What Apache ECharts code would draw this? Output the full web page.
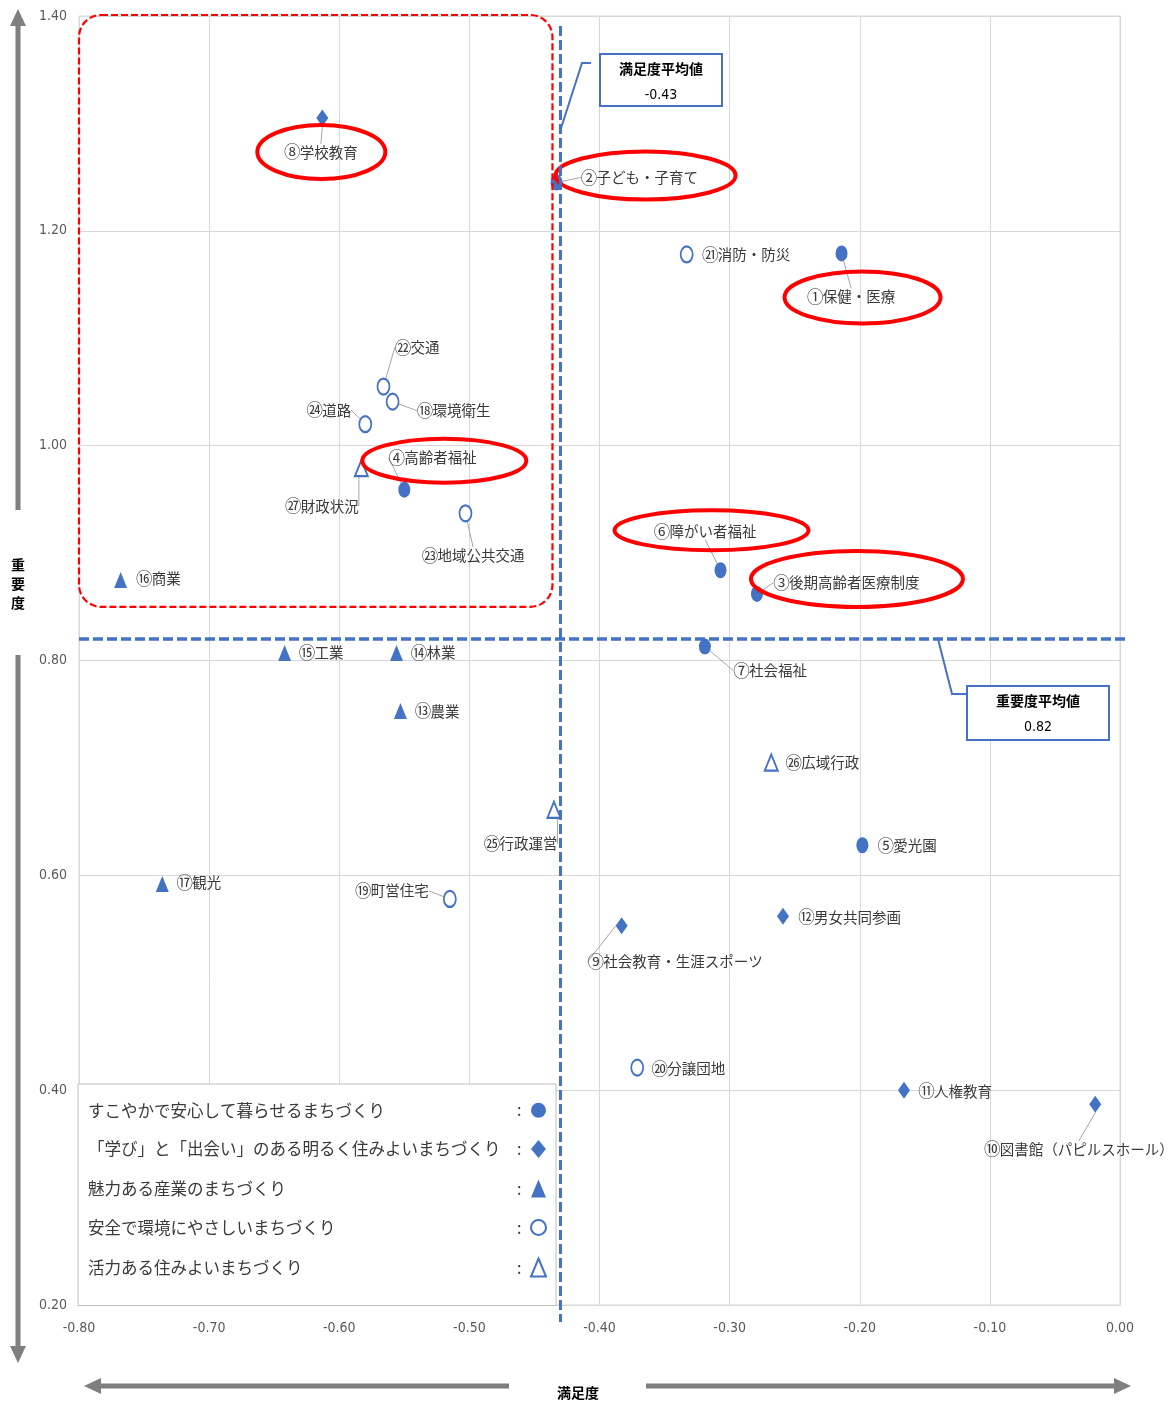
<!DOCTYPE html>
<html>
<head>
<meta charset="utf-8">
<script src="https://cdn.jsdelivr.net/npm/echarts@6/dist/echarts.min.js"></script>
<style>
  html, body { margin: 0; padding: 0; background: #fff; }
  #chart { width: 1176px; height: 1403px; }
</style>
</head>
<body>
<div id="chart"></div>
<script>
// ---- data ----
const itemNames = [
  '①保健・医療', '②子ども・子育て', '③後期高齢者医療制度', '④高齢者福祉', '⑤愛光園',
  '⑥障がい者福祉', '⑦社会福祉', '⑧学校教育', '⑨社会教育・生涯スポーツ', '⑩図書館（パピルスホール）',
  '⑪人権教育', '⑫男女共同参画', '⑬農業', '⑭林業', '⑮工業', '⑯商業', '⑰観光',
  '⑱環境衛生', '⑲町営住宅', '⑳分譲団地', '㉑消防・防災', '㉒交通', '㉓地域公共交通', '㉔道路',
  '㉕行政運営', '㉖広域行政', '㉗財政状況'
];
// 満足度 (x)
const satisfaction = [
  -0.214, -0.433, -0.279, -0.550, -0.198,
  -0.307, -0.319, -0.613, -0.383, -0.019,
  -0.166, -0.259, -0.553, -0.556, -0.642, -0.768, -0.736,
  -0.559, -0.515, -0.371, -0.333, -0.566, -0.503, -0.580,
  -0.435, -0.268, -0.583
];
// 重要度 (y)
const importance = [
  1.179, 1.245, 0.862, 0.959, 0.628,
  0.884, 0.813, 1.305, 0.553, 0.387,
  0.400, 0.562, 0.753, 0.807, 0.807, 0.875, 0.592,
  1.041, 0.578, 0.421, 1.178, 1.055, 0.937, 1.020,
  0.661, 0.705, 0.979
];
// policy group of each item (index into groupNames)
const groupOf = [0,0,0,0,0,0,0, 1,1,1,1,1, 2,2,2,2,2, 3,3,3,3,3,3,3, 4,4,4];
const groupNames = [
  'すこやかで安心して暮らせるまちづくり',
  '「学び」と「出会い」のある明るく住みよいまちづくり',
  '魅力ある産業のまちづくり',
  '安全で環境にやさしいまちづくり',
  '活力ある住みよいまちづくり'
];
const xAxisRange = [-0.8, 0.0, 0.1];
const yAxisRange = [0.2, 1.4, 0.2];
const meanSatisfaction = -0.43;
const meanImportance = 0.82;
const highlighted = [7, 1, 0, 3, 5, 2];   // items circled in red

// ---- styling ----
const BLUE = '#4472c4';
const TEXT = '#3a3a3a';
const CJK = "'Noto Sans CJK JP', 'Noto Sans', sans-serif";
const NARROW = "'Liberation Sans Narrow', 'DejaVu Sans Condensed', 'Liberation Sans', sans-serif";
const groupSymbols = ['circle', 'diamond', 'triangle', 'emptyCircle', 'emptyTriangle'];
const groupSizes = [[12, 16], [12, 17], [13, 16], [12, 16], [13, 16]];

// label placement: [dx, dy, align, leaderLine] relative to the marker centre
const labelPlacement = [
  [10, 43, 'center', true],   // ①
  [25, -5, 'left', true],     // ②
  [17, -11, 'left', true],    // ③
  [-15, -32, 'left', true],   // ④
  [16, 0, 'left', false],     // ⑤
  [-15, -39, 'center', true], // ⑥
  [29, 24, 'left', true],     // ⑦
  [-1, 34, 'center', true],   // ⑧
  [54, 36, 'center', true],   // ⑨
  [-16, 45, 'center', true],  // ⑩
  [15, 1, 'left', false],     // ⑪
  [16, 1, 'left', false],     // ⑫
  [15, 0, 'left', false],     // ⑬
  [15, 0, 'left', false],     // ⑭
  [15, 0, 'left', false],     // ⑮
  [16, -1, 'left', false],    // ⑯
  [15, -1, 'left', false],    // ⑰
  [25, 9, 'left', true],      // ⑱
  [-21, -8, 'right', true],   // ⑲
  [15, 1, 'left', false],     // ⑳
  [16, 0, 'left', false],     // ㉑
  [12, -39, 'left', true],    // ㉒
  [8, 42, 'center', true],    // ㉓
  [-14, -14, 'right', true],  // ㉔
  [-33, 34, 'center', true],  // ㉕
  [15, 0, 'left', false],     // ㉖
  [-39, 38, 'center', true]   // ㉗
];
// red ellipses: [dx, dy, rx, ry] relative to the marker centre
const ellipseShape = {
  7: [-1, 34, 64, 27],
  1: [89, -7, 90, 24],
  0: [21, 44, 78, 26],
  3: [40, -29, 82, 22],
  5: [-9, -40, 97, 20],
  2: [100, -15, 106, 28]
};

const seriesItems = groupNames.map((_, g) => itemNames.map((_, i) => i).filter(i => groupOf[i] === g));

const series = groupNames.map((name, g) => ({
  name: name,
  type: 'scatter',
  symbol: groupSymbols[g],
  symbolSize: groupSizes[g],
  itemStyle: { color: BLUE, borderColor: BLUE, borderWidth: g >= 3 ? 1.5 : 0, opacity: 1 },
  emphasis: { disabled: true },
  label: {
    show: true,
    position: 'right',
    formatter: p => '{n|' + p.name.charAt(0) + '}{t|' + p.name.slice(1) + '}',
    color: TEXT,
    fontSize: 14.5,
    fontFamily: CJK,
    rich: {
      n: { fontSize: 16.5, color: TEXT, fontFamily: CJK, width: 15, align: 'center' },
      t: { fontSize: 14.5, color: TEXT, fontFamily: CJK }
    }
  },
  labelLine: { show: true, smooth: false, length2: 0, lineStyle: { color: '#a6a6a6', width: 1 } },
  labelLayout: params => {
    const i = seriesItems[params.seriesIndex][params.dataIndex];
    const p = labelPlacement[i];
    const cx = params.rect.x + params.rect.width / 2;
    const cy = params.rect.y + params.rect.height / 2;
    return { x: cx + p[0], y: cy + p[1], align: p[2], verticalAlign: 'middle' };
  },
  data: seriesItems[g].map(i => ({
    name: itemNames[i],
    value: [satisfaction[i], importance[i]],
    labelLine: { show: labelPlacement[i][3] }
  })),
  z: 3
}));

const legendIcons = ['circle', 'diamond', 'triangle', 'emptyCircle', 'emptyTriangle'];

const option = {
  animation: false,
  backgroundColor: '#fff',
  grid: { left: 79, right: 56, top: 16, bottom: 98, show: true, borderColor: '#d9d9d9', borderWidth: 1 },
  xAxis: {
    type: 'value', min: xAxisRange[0], max: xAxisRange[1], interval: xAxisRange[2],
    axisLine: { show: true, lineStyle: { color: '#d9d9d9' } },
    axisTick: { show: false },
    splitLine: { show: true, lineStyle: { color: '#d9d9d9', width: 1 } },
    axisLabel: { formatter: v => v.toFixed(2), color: '#595959', fontSize: 14, fontFamily: NARROW, margin: 16 }
  },
  yAxis: {
    type: 'value', min: yAxisRange[0], max: yAxisRange[1], interval: yAxisRange[2],
    axisLine: { show: true, lineStyle: { color: '#d9d9d9' } },
    axisTick: { show: false },
    splitLine: { show: true, lineStyle: { color: '#d9d9d9', width: 1 } },
    axisLabel: { formatter: v => v.toFixed(2), color: '#595959', fontSize: 14, fontFamily: NARROW, margin: 12 }
  },
  legend: {
    orient: 'vertical',
    left: 78, top: 1084,
    align: 'right',
    selectedMode: false,
    padding: [18, 9, 28, 10],
    itemGap: 21.5,
    itemWidth: 15,
    itemHeight: 18,
    backgroundColor: '#fff',
    borderColor: '#bfbfbf',
    borderWidth: 1,
    data: groupNames.map((n, g) => ({ name: n, icon: legendIcons[g] })),
    formatter: n => '{t|' + n + '}{c|:}',
    textStyle: {
      rich: {
        t: { width: 429, align: 'left', fontSize: 16.5, color: TEXT, fontFamily: CJK, lineHeight: 20 },
        c: { width: 9, align: 'left', fontSize: 16, color: TEXT, fontFamily: CJK, lineHeight: 20 }
      }
    },
    z: 5
  },
  series: series
};

const chart = echarts.init(document.getElementById('chart'));
chart.setOption(option);

// ---- annotations placed from the axis scales ----
const toPx = (x, y) => chart.convertToPixel({ gridIndex: 0 }, [x, y]);
const origin = toPx(xAxisRange[0], yAxisRange[1]);
const corner = toPx(xAxisRange[1], yAxisRange[0]);
const gLeft = origin[0], gTop = origin[1], gRight = corner[0], gBottom = corner[1];
const meanX = toPx(meanSatisfaction, yAxisRange[0])[0];
const meanY = toPx(xAxisRange[0], meanImportance)[1];
const focusBottom = toPx(xAxisRange[0], 0.85)[1];

const graphics = [];

// top-left quadrant highlight
graphics.push({
  type: 'rect', z: 20, silent: true,
  shape: { x: gLeft, y: gTop - 1, width: meanX - 8 - gLeft, height: focusBottom - gTop + 1, r: 22 },
  style: { fill: 'none', stroke: '#ff0000', lineWidth: 2.2, lineDash: [7, 3] }
});

// average lines
graphics.push({
  type: 'line', z: 30, silent: true,
  shape: { x1: meanX, y1: gTop + 10, x2: meanX, y2: gBottom + 17 },
  style: { stroke: BLUE, lineWidth: 3, lineDash: [10, 4] }
});
graphics.push({
  type: 'line', z: 30, silent: true,
  shape: { x1: gLeft, y1: meanY, x2: gRight + 8, y2: meanY },
  style: { stroke: BLUE, lineWidth: 3.5, lineDash: [10, 4] }
});

// average call-outs
function callout(x, y, w, h, title, value, leader) {
  graphics.push({
    type: 'polyline', z: 31, silent: true,
    shape: { points: leader },
    style: { stroke: BLUE, lineWidth: 2, fill: 'none' }
  });
  graphics.push({
    type: 'rect', z: 31, silent: true,
    shape: { x: x, y: y, width: w, height: h },
    style: { fill: '#fff', stroke: BLUE, lineWidth: 2 }
  });
  graphics.push({
    type: 'text', z: 32, silent: true,
    style: { x: x + w / 2, y: y + 15, text: title, align: 'center', verticalAlign: 'middle',
             fontSize: 14, fontWeight: 'bold', fontFamily: CJK, fill: '#000' }
  });
  graphics.push({
    type: 'text', z: 32, silent: true,
    style: { x: x + w / 2, y: y + 41, text: value, align: 'center', verticalAlign: 'middle',
             fontSize: 14, fontFamily: NARROW, fill: '#000' }
  });
}
callout(600, 54, 122, 52, '満足度平均値', meanSatisfaction.toFixed(2),
  [[meanX, 130], [582, 63], [591, 63]]);
callout(967, 686, 142, 54, '重要度平均値', meanImportance.toFixed(2),
  [[938, meanY], [952, 694], [967, 694]]);

// red ellipses around the key items
highlighted.forEach(i => {
  const p = toPx(satisfaction[i], importance[i]);
  const e = ellipseShape[i];
  graphics.push({
    type: 'ellipse', z: 25, silent: true,
    shape: { cx: p[0] + e[0], cy: p[1] + e[1], rx: e[2], ry: e[3] },
    style: { fill: 'none', stroke: '#ff0000', lineWidth: 4 }
  });
});

// direction arrows
const GRAY = '#7f7f7f';
function arrow(x1, y1, x2, y2) {
  const ang = Math.atan2(y2 - y1, x2 - x1);
  const len = 17, half = 8;
  const bx = x2 - Math.cos(ang) * len, by = y2 - Math.sin(ang) * len;
  const nx = -Math.sin(ang) * half, ny = Math.cos(ang) * half;
  graphics.push({
    type: 'line', silent: true,
    shape: { x1: x1, y1: y1, x2: bx, y2: by },
    style: { stroke: GRAY, lineWidth: 5 }
  });
  graphics.push({
    type: 'polygon', silent: true,
    shape: { points: [[x2, y2], [bx + nx, by + ny], [bx - nx, by - ny]] },
    style: { fill: GRAY }
  });
}
arrow(18, 510, 18, 9);
arrow(18, 655, 18, 1363);
arrow(509, 1386, 84, 1386);
arrow(646, 1386, 1131, 1386);

// axis titles
graphics.push({
  type: 'text', silent: true,
  style: { x: 578, y: 1393, text: '満足度', align: 'center', verticalAlign: 'middle',
           fontSize: 14, fontWeight: 'bold', fontFamily: CJK, fill: '#000' }
});
graphics.push({
  type: 'text', silent: true,
  style: { x: 18, y: 584, text: '重\n要\n度', align: 'center', verticalAlign: 'middle',
           fontSize: 14, lineHeight: 19, fontWeight: 'bold', fontFamily: CJK, fill: '#000' }
});

chart.setOption({ graphic: { elements: graphics } });
</script>
</body>
</html>
